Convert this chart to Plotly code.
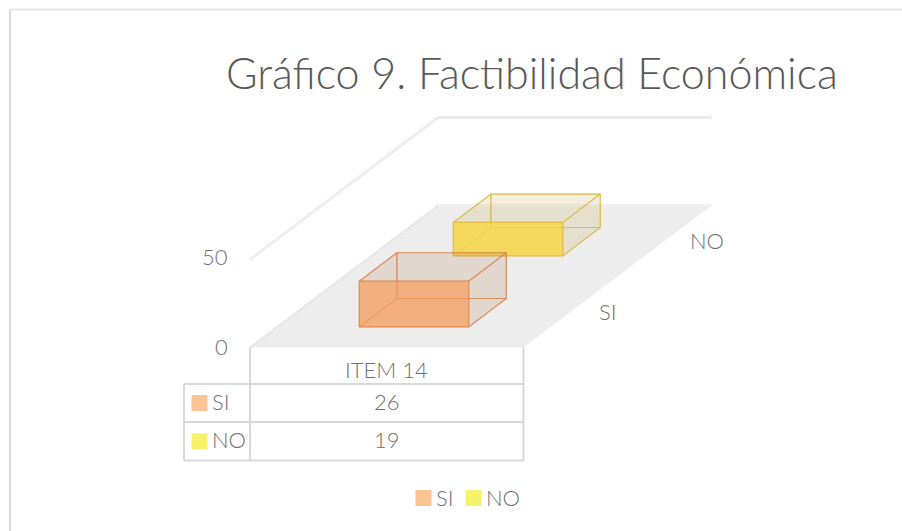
import plotly.graph_objects as go

# ---- data ----
title = "Gráfico 9. Factibilidad Económica"
categories = ["ITEM 14"]
series_names = ["SI", "NO"]
si_values = [26]
no_values = [19]
value_ticks = [0, 50]

# ---- oblique projection of the 3-D bar chart onto the page ----
ORIGIN = (250, 347.5)
WIDTH = 273.5
DEPTH = (188, -142)
UNIT = -1.76


def project(u, d, v):
    return (ORIGIN[0] + WIDTH * u + DEPTH[0] * d, ORIGIN[1] + DEPTH[1] * d + UNIT * v)


fig = go.Figure()
TEXT = "#707070"


def poly(points, fill, line=None, width=1.2, dash=None, closed=True):
    xs = [p[0] for p in points]
    ys = [p[1] for p in points]
    if closed:
        xs.append(xs[0])
        ys.append(ys[0])
    fig.add_trace(go.Scatter(
        x=xs, y=ys, mode="lines", fill="toself" if fill else None, fillcolor=fill,
        line=dict(color=line or "rgba(0,0,0,0)", width=width, dash=dash),
        hoverinfo="skip", showlegend=False))


def seg(a, b, color="#d9d9d9", width=2, dash=None):
    poly([a, b], None, color, width, dash, closed=False)


def label(x, y, text, size=22, color=TEXT, xanchor="center"):
    fig.add_annotation(x=x, y=y, text=text, showarrow=False, xanchor=xanchor, yanchor="middle",
                       font=dict(family="Lato Light, Lato", size=size, color=color, weight=300))


# chart frame
seg((10, 531), (10, 9.5), "#dcdcdc", 2)
seg((10, 9.5), (902, 9.5), "#e2e2e2", 1.5)

top = value_ticks[-1]
# floor
poly([project(0, 0, 0), project(1, 0, 0), project(1, 1, 0), project(0, 1, 0)], "#ededed")
# gridlines on the walls
seg(project(0, 0, top), project(0, 1, top), "#dedede", 3, "1px,1px")
seg(project(0, 1, top), project(1, 1, top), "#ebebeb", 3)
seg(project(0, 1, 0), project(1, 1, 0), "#f2f2f2", 3)
seg(project(0, 0, 0), project(0, 1, 0), "#dcdcdc", 2.5, "1px,1px")


def bar(value, slot, front, side, edge):
    d0, d1 = slot + 0.145, slot + 0.345
    u0, u1 = 0.3, 0.7
    P = project
    poly([P(u0, d0, 0), P(u1, d0, 0), P(u1, d1, 0), P(u0, d1, 0)], side, edge)          # bottom
    poly([P(u0, d1, 0), P(u1, d1, 0), P(u1, d1, value), P(u0, d1, value)], side, edge)  # back
    poly([P(u0, d0, 0), P(u0, d1, 0), P(u0, d1, value), P(u0, d0, value)], side, edge)  # left
    poly([P(u1, d0, 0), P(u1, d1, 0), P(u1, d1, value), P(u1, d0, value)], side, edge)  # right
    poly([P(u0, d0, value), P(u1, d0, value), P(u1, d1, value), P(u0, d1, value)], side, edge)  # top
    poly([P(u0, d0, 0), P(u1, d0, 0), P(u1, d0, value), P(u0, d0, value)], front, edge)  # front


bar(no_values[0], 0.5, "rgba(246,214,62,0.80)", "rgba(200,175,90,0.11)", "rgba(218,178,50,0.55)")
bar(si_values[0], 0.0, "rgba(245,155,92,0.72)", "rgba(190,130,90,0.10)", "rgba(215,125,70,0.55)")

# value-axis labels
for t, dy in zip(value_ticks, [-1, -3]):
    x, y = project(0, 0, t)
    label(x - 20, y + dy, str(t), xanchor="right")

# depth-axis labels
for name, d, dx in zip(series_names, [0.25, 0.75], [37, 42]):
    x, y = project(1, d, 0)
    label(x + dx, y - 1, name)

# data table
table_left, col, right = 184, 250, 523.5
row0, row1, row2, row3 = 347.5, 384, 422, 460.5
for y in (row1, row2, row3):
    seg((table_left, y), (right, y))
seg((col, row0), (col, row3))
seg((right, row0), (right, row3))
seg((table_left, row1), (table_left, row3))
label((col + right) / 2, (row0 + row1) / 2 + 4, categories[0])

KEY_COLORS = ["#fbc495", "#f6f26a"]
for name, vals, c0, c1, color in zip(series_names, [si_values, no_values], [row1, row2], [row2, row3], KEY_COLORS):
    ym = (c0 + c1) / 2
    fig.add_trace(go.Scatter(x=[199.5], y=[ym], mode="markers", hoverinfo="skip", showlegend=False,
                             marker=dict(symbol="square", size=16, color=color)))
    label(210, ym - 2, name, xanchor="left")
    label((col + right) / 2, ym - 2, str(vals[0]))

# legend
for name, color, kx in zip(series_names, KEY_COLORS, [423.5, 473.5]):
    fig.add_trace(go.Scatter(x=[kx], y=[498], mode="markers", hoverinfo="skip", showlegend=False,
                             marker=dict(symbol="square", size=16, color=color)))
    label(kx + 10.5, 497, name, xanchor="left")

label(532, 72, title, size=43, color="#595959")

fig.update_layout(
    width=902, height=531, margin=dict(l=0, r=0, t=0, b=0),
    paper_bgcolor="white", plot_bgcolor="white", showlegend=False,
    xaxis=dict(range=[0, 902], visible=False, fixedrange=True),
    yaxis=dict(range=[531, 0], visible=False, fixedrange=True),
)
fig.write_html("out.html", config={"displayModeBar": False},
               post_script="document.body.style.margin='0';document.body.style.overflow='hidden';")
